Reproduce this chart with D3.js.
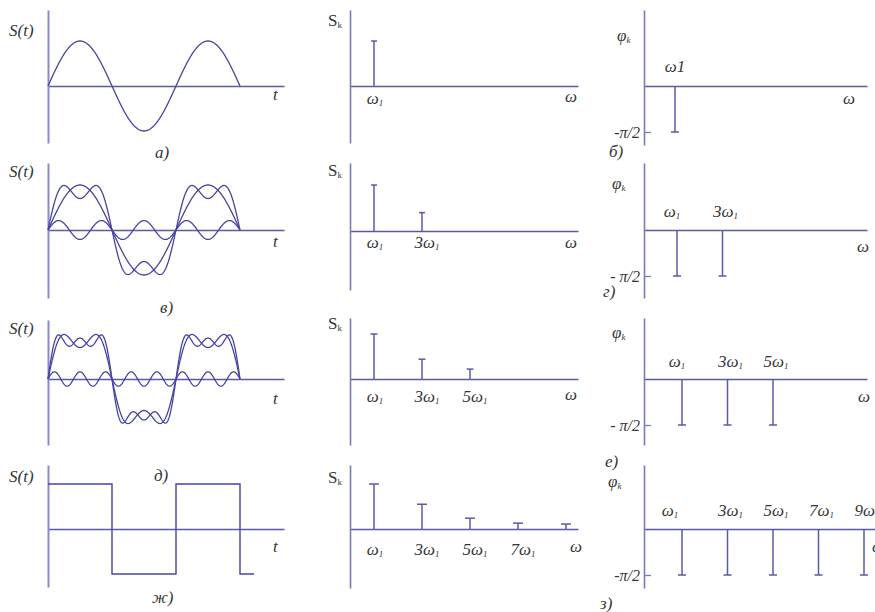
<!DOCTYPE html>
<html>
<head>
<meta charset="utf-8">
<script src="https://cdn.jsdelivr.net/npm/d3@7"></script>
<style>
  body { margin: 0; background: #fff; }
  svg text { font-family: "Liberation Serif", "Times New Roman", serif; fill: #363636; }
</style>
</head>
<body>
<svg id="chart" width="875" height="612"></svg>
<script>
// ---- data -------------------------------------------------------------
// harmonic orders (multiples of the fundamental frequency)
const orders = [1, 3, 5, 7, 9];

// time-domain curves: sine coefficients for orders 1, 3, 5 (fundamental = 1)
const waveA = [[1, 0, 0]];
const waveB = [[1, 0, 0], [0, 0.21, 0], [1.05, 0.35, 0]];
const waveC = [[1.05, 0.35, 0], [1.05, 0.35, 0.21], [0, 0, 0.16]];

// square wave: switching instants (in periods) and levels
const squareEdges = [0, 0.5, 1, 1.5, 1.61];
const squareLevels = [1, -1, 1, -1, -1];

// amplitude spectra S_k (relative to the fundamental)
const ampA = [1];
const ampB = [1, 0.4];
const ampC = [1, 0.44, 0.22];
const ampD = [1, 0.55, 0.24, 0.13, 0.11];

// phase spectra φ_k
const phaseA = [-Math.PI / 2];
const phaseB = [-Math.PI / 2, -Math.PI / 2];
const phaseC = [-Math.PI / 2, -Math.PI / 2, -Math.PI / 2];
const phaseD = [-Math.PI / 2, -Math.PI / 2, -Math.PI / 2, -Math.PI / 2, -Math.PI / 2];

// phase tick labels per row
const phaseTickLabels = ["-π/2", "- π/2", "- π/2", "-π/2"];

// panel captions
const lettersTime = ["а)", "в)", "д)", "ж)"];
const lettersPhase = ["б)", "г)", "е)", "з)"];

// ---- layout -----------------------------------------------------------
const rows = [
  { y: 86,  tSpan: [10, 143],  sSpan: [10, 143],  pSpan: [10, 145],  pEnd: 867, pShift: -7, firstDx: 0,
    stY: 36,  tY: 100, skY: 26,  wSY: 102, lblSY: 104, phiX: 617, phiY: 41,  wPX: 843, wPY: 104, lblPY: 72,
    letT: [155, 158], letP: [609, 157], capS: 3 },
  { y: 230, tSpan: [163, 298], sSpan: [163, 290], pSpan: [163, 298], pEnd: 867, pShift: -5, firstDx: -5,
    stY: 177, tY: 247, skY: 176, wSY: 248, lblSY: 248, phiX: 612, phiY: 189, wPX: 857, wPY: 252, lblPY: 217,
    letT: [160, 313], letP: [603, 297], capS: 3 },
  { y: 379, tSpan: [320, 445], sSpan: [318, 445], pSpan: [318, 445], pEnd: 867, pShift: 0, firstDx: -5,
    stY: 334, tY: 404, skY: 329, wSY: 400, lblSY: 402, phiX: 612, phiY: 338, wPX: 858, wPY: 402, lblPY: 367,
    letT: [154, 481], letP: [605, 467], capS: 3.5 },
  { y: 529, tSpan: [465, 587], sSpan: [465, 588], pSpan: [465, 588], pEnd: 875, pShift: 0, firstDx: -12,
    stY: 482, tY: 552, skY: 483, wSY: 552, lblSY: 555, phiX: 608, phiY: 487, wPX: 872, wPY: 552, lblPY: 516,
    letT: [152, 603], letP: [600, 609], capS: 5 }
];

const AMP = 45;          // pixel height of a unit amplitude
const FS = 17;           // label font size
const axisColor = "#5a5aa8";
const vAxisColor = "#8a8ac4";
const curveColor = "#4545a0";

const svg = d3.select("#chart");

// shared horizontal scales
const xTime = d3.scaleLinear().domain([0, 1.5]).range([48, 240]);
const xSpec = d3.scaleLinear().domain([0, 9.5]).range([350, 578]);
const xPhaseBase = d3.scaleLinear().domain([1, 9]).range([682, 864]);

function styleAxis(g, color, width) {
  g.select(".domain").attr("stroke", color).attr("stroke-width", width);
  g.selectAll(".tick line").attr("stroke", color).attr("stroke-width", 1.3);
}

function hAxis(x0, x1, y) {
  const g = svg.append("g").attr("transform", `translate(0,${y})`)
    .call(d3.axisBottom(d3.scaleLinear().range([x0, x1])).tickValues([]).tickSizeOuter(0));
  styleAxis(g, axisColor, 1.4);
}

function vAxis(x, span, color, width) {
  const g = svg.append("g").attr("transform", `translate(${x},0)`)
    .call(d3.axisLeft(d3.scaleLinear().range(span)).tickValues([]).tickSizeOuter(0));
  styleAxis(g, color, width);
}

function label(x, y, main, sub, opts = {}) {
  const t = svg.append("text").attr("x", x).attr("y", y)
    .attr("font-size", opts.size || FS)
    .attr("font-style", opts.italic === false ? "normal" : "italic")
    .attr("text-anchor", opts.anchor || "start");
  t.append("tspan").text(main);
  if (sub) t.append("tspan").attr("font-size", 9).attr("dy", 2).text(sub);
  return t;
}

function harmonicLabel(k) { return k === 1 ? "ω" : k + "ω"; }

const waves = [waveA, waveB, waveC];
const amps = [ampA, ampB, ampC, ampD];
const phases = [phaseA, phaseB, phaseC, phaseD];
const tSamples = d3.range(0, 1.5 + 1e-9, 0.0025);

rows.forEach((r, i) => {
  // ---------- time domain ----------
  const yT = d3.scaleLinear().domain([-1, 1]).range([r.y + AMP, r.y - AMP]);
  hAxis(48, 284, r.y);
  vAxis(48, r.tSpan, vAxisColor, 2);

  if (i < 3) {
    const line = d3.line().x(d => xTime(d[0])).y(d => yT(d[1]));
    waves[i].forEach(coef => {
      const pts = tSamples.map(t => [t, coef.reduce((s, a, j) => s + a * Math.sin(2 * Math.PI * orders[j] * t), 0)]);
      svg.append("path").attr("d", line(pts)).attr("fill", "none")
        .attr("stroke", curveColor).attr("stroke-width", 1.3);
    });
  } else {
    const sq = squareEdges.map((t, j) => [t, squareLevels[j]]);
    const line = d3.line().curve(d3.curveStepAfter).x(d => xTime(d[0])).y(d => yT(d[1]));
    svg.append("path").attr("d", line(sq)).attr("fill", "none")
      .attr("stroke", curveColor).attr("stroke-width", 1.4);
  }
  label(9, r.stY, "S(t)");
  label(273, r.tY, "t");
  label(r.letT[0], r.letT[1], lettersTime[i]);

  // ---------- amplitude spectrum ----------
  const yS = d3.scaleLinear().domain([0, 1]).range([r.y + (i === 1 ? 1 : 0), r.y - AMP]);
  hAxis(350, 578, r.y + (i === 1 ? 1 : 0));
  vAxis(350, r.sSpan, "#7a7ab8", 1.6);
  const spec = amps[i].map((a, j) => ({ k: orders[j], a }));
  const gs = svg.append("g").attr("stroke", axisColor).attr("stroke-width", 1.5);
  gs.selectAll(".bar").data(spec).join("line")
    .attr("x1", d => xSpec(d.k)).attr("x2", d => xSpec(d.k))
    .attr("y1", yS(0)).attr("y2", d => yS(d.a));
  gs.selectAll(".cap").data(spec).join("line")
    .attr("x1", d => xSpec(d.k) - r.capS).attr("x2", d => xSpec(d.k) + r.capS)
    .attr("y1", d => yS(d.a)).attr("y2", d => yS(d.a));
  spec.forEach(d => {
    if (d.k < 9) label(xSpec(d.k) + (d.k === 1 ? 1 : 5), r.lblSY, harmonicLabel(d.k), "1", { anchor: "middle" });
  });
  label(328, r.skY, "S", "k", { italic: false });
  label(i === 3 ? 570 : 565, r.wSY, "ω");

  // ---------- phase spectrum ----------
  const xP = xPhaseBase.copy().range(xPhaseBase.range().map(v => v + r.pShift));
  const yP = d3.scaleLinear().domain([-Math.PI / 2, 0]).range([r.y + 46, r.y]);
  hAxis(644, r.pEnd, r.y);
  const pAxisScale = d3.scaleLinear()
    .domain([yP.invert(r.pSpan[1]), yP.invert(r.pSpan[0])])
    .range([r.pSpan[1], r.pSpan[0]]);
  const gp = svg.append("g").attr("transform", "translate(644,0)")
    .call(d3.axisLeft(pAxisScale).tickValues([-Math.PI / 2])
      .tickFormat(() => phaseTickLabels[i]).tickSizeInner(-7).tickSizeOuter(0).tickPadding(4));
  styleAxis(gp, "#7a7ab8", 1.6);
  gp.selectAll(".tick text")
    .attr("font-size", 16).attr("font-style", "italic");
  gp.attr("font-family", null).attr("font-size", null);

  const ph = phases[i].map((p, j) => ({ k: orders[j], p }));
  const gph = svg.append("g").attr("stroke", axisColor).attr("stroke-width", 1.5);
  gph.selectAll(".bar").data(ph).join("line")
    .attr("x1", d => xP(d.k)).attr("x2", d => xP(d.k))
    .attr("y1", yP(0)).attr("y2", d => yP(d.p));
  gph.selectAll(".cap").data(ph).join("line")
    .attr("x1", d => xP(d.k) - 4).attr("x2", d => xP(d.k) + 4)
    .attr("y1", d => yP(d.p)).attr("y2", d => yP(d.p));
  ph.forEach(d => {
    if (i === 0) label(xP(d.k), r.lblPY, "ω1", null, { anchor: "middle" });
    else label(xP(d.k) + (d.k === 1 ? r.firstDx : 3), r.lblPY, harmonicLabel(d.k), "1", { anchor: "middle" });
  });
  label(r.phiX, r.phiY, "φ", "k");
  label(r.wPX, r.wPY, "ω");
  label(r.letP[0], r.letP[1], lettersPhase[i]);
});
</script>
</body>
</html>
